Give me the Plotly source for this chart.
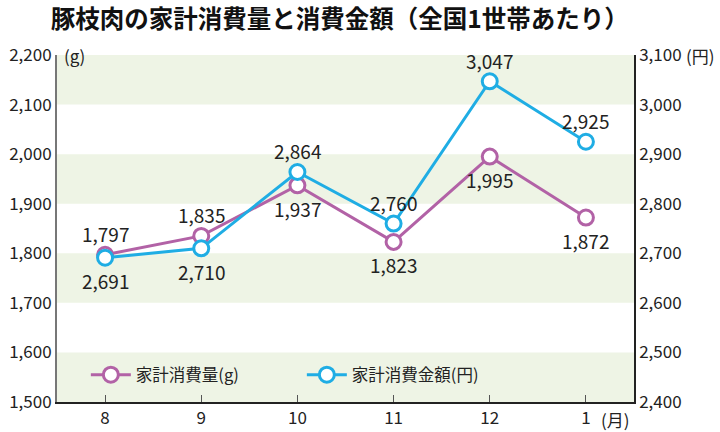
import plotly.graph_objects as go

months = ["8", "9", "10", "11", "12", "1"]
qty = [1797, 1835, 1937, 1823, 1995, 1872]
amt = [2691, 2710, 2864, 2760, 3047, 2925]
qty_name = "家計消費量(g)"
amt_name = "家計消費金額(円)"
left_ticks = [1500, 1600, 1700, 1800, 1900, 2000, 2100, 2200]
right_ticks = [2400, 2500, 2600, 2700, 2800, 2900, 3000, 3100]
# label position: +1 above, -1 below
qty_pos = [1, 1, -1, -1, -1, -1]
amt_pos = [-1, -1, 1, 1, 1, 1]

PURPLE = "#b262a6"
BLUE = "#1fade4"
BAND = "#eef4e5"
FONT = "Noto Sans CJK JP, sans-serif"

x = list(range(len(months)))

fig = go.Figure()
fig.add_trace(go.Scatter(
    x=x, y=qty, name=qty_name, mode="lines+markers",
    line=dict(color=PURPLE, width=3),
    marker=dict(size=15, color="white", line=dict(color=PURPLE, width=3)),
    yaxis="y"))
fig.add_trace(go.Scatter(
    x=x, y=amt, name=amt_name, mode="lines+markers",
    line=dict(color=BLUE, width=3),
    marker=dict(size=15, color="white", line=dict(color=BLUE, width=3)),
    yaxis="y2"))

shapes = []
for i in range(len(left_ticks) - 1):
    if i % 2 == 0:
        shapes.append(dict(type="rect", xref="paper", yref="y", x0=0, x1=1,
                           y0=left_ticks[i], y1=left_ticks[i + 1],
                           fillcolor=BAND, line=dict(width=0), layer="below"))

ann = []
for i, v in enumerate(qty):
    ann.append(dict(x=x[i], y=v, xref="x", yref="y", text=f"{v:,}", showarrow=False,
                    yshift=(21 if qty_pos[i] > 0 else 23) * qty_pos[i],
                    font=dict(size=19, color="#222", family=FONT)))
for i, v in enumerate(amt):
    ann.append(dict(x=x[i], y=v, xref="x", yref="y2", text=f"{v:,}", showarrow=False,
                    yshift=(21 if amt_pos[i] > 0 else 23) * amt_pos[i],
                    font=dict(size=19, color="#222", family=FONT)))
ann.append(dict(x=0, y=1, xref="paper", yref="paper", text="(g)", showarrow=False,
                xanchor="left", yanchor="middle", xshift=5, font=dict(size=17, color="#222", family=FONT)))
ann.append(dict(x=1, y=1, xref="paper", yref="paper", text="(円)", showarrow=False,
                xanchor="left", yanchor="middle", xshift=50, font=dict(size=17, color="#222", family=FONT)))
ann.append(dict(x=1, y=0, xref="paper", yref="paper", text="(月)", showarrow=False,
                xanchor="right", yanchor="top", xshift=-2, yshift=-3, font=dict(size=17, color="#222", family=FONT)))

fig.update_layout(
    width=720, height=432,
    margin=dict(l=57, r=86, t=55, b=30),
    paper_bgcolor="white", plot_bgcolor="white",
    font=dict(family=FONT, size=17, color="#222"),
    title=dict(text="<b>豚枝肉の家計消費量と消費金額（全国1世帯あたり）</b>",
               x=0.472, xanchor="center", y=0.954, yanchor="middle",
               font=dict(size=24.5, color="#111", family="Noto Sans CJK JP")),
    xaxis=dict(tickmode="array", tickvals=x, ticktext=months, range=[-0.5, 5.5],
               showgrid=False, zeroline=False, showline=True, linecolor="#222", linewidth=1.5,
               ticks="inside", ticklen=7, tickcolor="#555", tickfont=dict(size=17),
               automargin=False),
    yaxis=dict(range=[1500, 2200], tickvals=left_ticks,
               ticktext=[f"{v:,}" for v in left_ticks],
               showgrid=False, zeroline=False, showline=True, linecolor="#777", linewidth=2,
               ticks="", tickfont=dict(size=17), automargin=False),
    yaxis2=dict(range=[2400, 3100], tickvals=right_ticks,
                ticktext=[f"{v:,}" for v in right_ticks], overlaying="y", side="right",
                showgrid=False, zeroline=False, showline=True, linecolor="#222", linewidth=1.5,
                ticks="", tickfont=dict(size=17), automargin=False),
    shapes=shapes, annotations=ann,
    legend=dict(orientation="h", x=0.05, y=0.078, xanchor="left", yanchor="middle",
                bgcolor="rgba(0,0,0,0)", font=dict(size=16.5, color="#222", family="Noto Sans CJK JP"),
                entrywidth=161, itemwidth=40),
    showlegend=True,
)

fig.write_html("out.html")
